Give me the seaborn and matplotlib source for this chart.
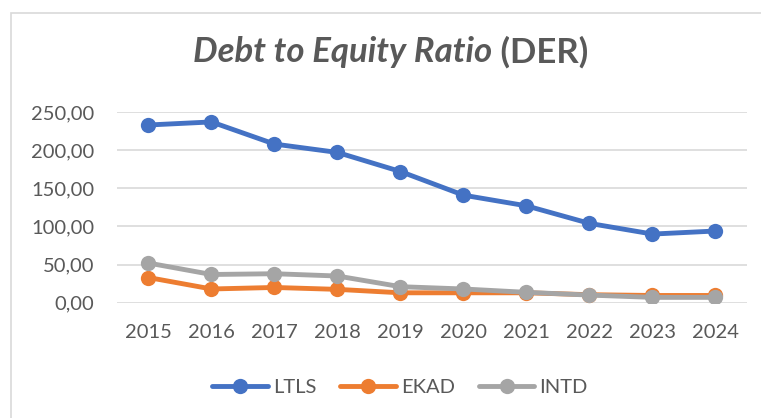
import pandas as pd
import seaborn as sns
import matplotlib.pyplot as plt
from matplotlib.lines import Line2D
from matplotlib.patches import Rectangle
from matplotlib.ticker import FuncFormatter

# values
years = ["2015", "2016", "2017", "2018", "2019", "2020", "2021", "2022", "2023", "2024"]
ltls = [233, 237, 208, 197, 172, 141, 127, 104, 90, 94]
ekad = [33, 18, 20, 17.5, 13, 13, 13, 10.5, 9.5, 9.5]
intd = [52, 37, 38, 35, 21, 18, 13.6, 10, 7, 7]
companies = ["LTLS", "EKAD", "INTD"]
colors = ["#4472C4", "#ED7D31", "#A5A5A5"]

df = pd.DataFrame({"year": years * 3,
                   "der": ltls + ekad + intd,
                   "company": [c for c in companies for _ in years]})

sns.set_style("white")
plt.rcParams["font.family"] = ["Lato", "DejaVu Sans"]
text_col = "#595959"

fig = plt.figure(figsize=(7.61, 4.18), dpi=100)
ax = fig.add_axes([0.1537, 0.2758, 0.8279, 0.4562])

sns.lineplot(data=df, x="year", y="der", hue="company", hue_order=companies,
             palette=colors, marker="o", markersize=11, markeredgewidth=0,
             linewidth=3.5, sort=False, legend=False, ax=ax)

ax.set_xlim(-0.5, len(years) - 0.5)
ax.set_ylim(0, 250)
ax.set_yticks(range(0, 251, 50))
ax.yaxis.set_major_formatter(FuncFormatter(lambda v, p: f"{v:.2f}".replace(".", ",")))
ax.grid(axis="y", color="#D9D9D9", linewidth=1.2)
ax.set_axisbelow(True)
for s in ax.spines.values():
    s.set_visible(False)
ax.tick_params(axis="x", length=0, pad=15, labelsize=14.5, labelcolor=text_col)
ax.tick_params(axis="y", length=0, pad=16.5, labelsize=14.5, labelcolor=text_col)
ax.set_xlabel("")
ax.set_ylabel("")

# chart border like the spreadsheet chart frame
fig.patches.append(Rectangle((0.014, -0.05), 1.2, 1.018, transform=fig.transFigure,
                             fill=False, edgecolor="#D9D9D9", linewidth=1.2))

# title with italic part and plain part
fig.canvas.draw()
r = fig.canvas.get_renderer()
t1 = fig.text(0, 0.876, "Debt to Equity Ratio", fontsize=25, fontweight="bold",
              fontstyle="italic", color=text_col, va="center")
t2 = fig.text(0, 0.876, " (DER)", fontsize=25, fontweight="bold",
              color=text_col, va="center")
w1 = t1.get_window_extent(r).width / fig.bbox.width
w2 = t2.get_window_extent(r).width / fig.bbox.width
x0 = 391 / 761 - (w1 + w2) / 2
t1.set_x(x0)
t2.set_x(x0 + w1)

handles = [Line2D([], [], color=c, linewidth=3.5, marker="o", markersize=11,
                  markeredgewidth=0) for c in colors]
fig.legend(handles, companies, loc="center", bbox_to_anchor=(400 / 761, 0.074), ncol=3,
           frameon=False, fontsize=14.5, labelcolor=text_col, handlelength=2.75,
           handletextpad=0.25, columnspacing=1.2)

fig.savefig("out.png", dpi=100)
